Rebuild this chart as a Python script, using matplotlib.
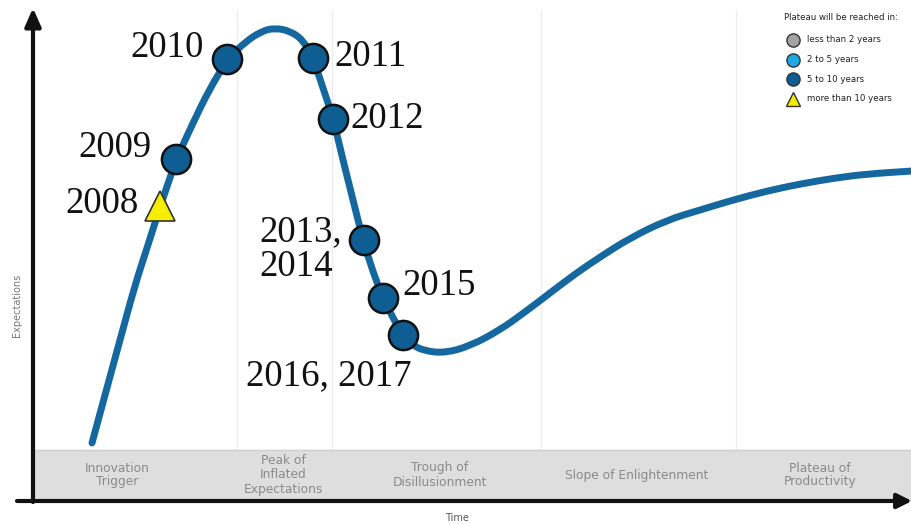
import matplotlib.pyplot as plt
from matplotlib.path import Path
from matplotlib.patches import PathPatch

# hype-cycle curve (time -> expectation height above the baseline)
curve_t = [92, 105, 120, 135, 148, 160, 176, 192, 210, 228, 245, 262, 275, 290, 303, 313,
           323, 333, 343, 353, 363, 373, 383, 393, 403, 412, 425, 445, 470, 500, 525, 550,
           575, 600, 630, 667, 700, 733, 767, 800, 835, 867, 912]
curve_e = [57, 105, 160, 215, 255, 293, 340, 375, 412, 441, 458, 469, 472, 469, 460, 442,
           412, 382, 340, 300, 260, 228, 202, 182, 165, 155, 149, 147, 154, 170, 188, 207,
           226, 243, 262, 280, 290, 300, 309, 316, 322, 326, 329]

# yearly positions on the curve
years = ['2009', '2010', '2011', '2012', '2013,\n2014', '2015', '2016, 2017']
year_t = [176, 227, 313, 333, 364, 383, 403]
year_e = [341, 441, 442, 381, 260, 202, 165]
tri_year = '2008'
tri_t, tri_e = 160, 294

phases = ['Innovation\nTrigger', 'Peak of\nInflated\nExpectations', 'Trough of\nDisillusionment',
          'Slope of Enlightenment', 'Plateau of\nProductivity']
phase_t = [117, 283, 440, 637, 820]
separators = [237, 332, 541, 736]

legend_labels = ['less than 2 years', '2 to 5 years', '5 to 10 years', 'more than 10 years']
legend_colors = ['#a3a3a3', '#1ea8e3', '#0d5d94', '#f3ec00']
legend_markers = ['o', 'o', 'o', '^']

CURVE = '#14689f'
DOT = '#0f5e93'
SANS = ['Liberation Sans Narrow', 'DejaVu Sans']
SERIF = ['Liberation Serif', 'DejaVu Serif']

fig = plt.figure(figsize=(9.12, 5.24), dpi=100, facecolor='white')
ax = fig.add_axes([0, 0, 1, 1])
ax.set_xlim(0, 912)
ax.set_ylim(-24, 500)
ax.axis('off')

# phase separators and gray band
for s in separators:
    ax.plot([s, s], [50, 490], color='#ededed', lw=1, zorder=0)
ax.fill_between([35, 912], [0, 0], [50, 50], color='#dedede', zorder=1)
ax.plot([35, 912], [50, 50], color='#cfcfcf', lw=1, zorder=1)
for name, t in zip(phases, phase_t):
    ax.text(t, 25, name, ha='center', va='center', fontsize=8.8, color='#8a8a8a',
            family=SANS, linespacing=1.1, zorder=2)

# axes arrows
ax.annotate('', xy=(33, 492), xytext=(33, -2),
            arrowprops=dict(arrowstyle='-|>,head_length=0.5,head_width=0.22', lw=3,
                            color='#111111', mutation_scale=22, shrinkA=0, shrinkB=0), zorder=3)
ax.annotate('', xy=(912, -1), xytext=(17, -1),
            arrowprops=dict(arrowstyle='-|>', lw=3, color='#111111', mutation_scale=22,
                            shrinkA=0, shrinkB=0), zorder=3)
ax.text(457, -18, 'Time', ha='center', va='center', fontsize=7, color='#555555', family=SANS)
ax.text(17, 195, 'Expectations', ha='center', va='center', rotation=90, fontsize=7,
        color='#777777', family=SANS)

# the curve, drawn as a smooth quadratic path through the read points
pts = list(zip(curve_t, curve_e))
verts = [pts[0]]
codes = [Path.MOVETO]
for i in range(1, len(pts) - 1):
    mid = ((pts[i][0] + pts[i + 1][0]) / 2, (pts[i][1] + pts[i + 1][1]) / 2)
    verts += [pts[i], mid]
    codes += [Path.CURVE3, Path.CURVE3]
verts.append(pts[-1])
codes.append(Path.LINETO)
ax.add_patch(PathPatch(Path(verts, codes), facecolor='none', edgecolor=CURVE, lw=5,
                       capstyle='round', joinstyle='round', zorder=4))

# markers
ax.plot(year_t, year_e, 'o', ms=21, mfc=DOT, mec='#111111', mew=1.8, zorder=5)
ax.plot([tri_t], [tri_e], '^', ms=22, mfc='#f5ee00', mec='#333333', mew=1.2, zorder=5)

# year labels
lab_pos = {
    '2009': (152, 352, 'right'), '2010': (204, 452, 'right'), '2011': (334, 443, 'left'),
    '2012': (350, 381, 'left'), '2013,\n2014': (259, 251, 'left'), '2015': (402, 214, 'left'),
    '2016, 2017': (246, 124, 'left'),
}
for y in years:
    x, e, ha = lab_pos[y]
    ax.text(x, e, y, ha=ha, va='center', fontsize=26.5, family=SERIF, color='#111111',
            linespacing=1.0, zorder=6)
ax.text(139, 296, tri_year, ha='right', va='center', fontsize=26.5, family=SERIF,
        color='#111111', zorder=6)

# legend
ax.text(784, 482, 'Plateau will be reached in:', ha='left', va='center', fontsize=6.2,
        color='#222222', family=SANS)
for i, (lab, c, m) in enumerate(zip(legend_labels, legend_colors, legend_markers)):
    yy = 460 - i * 19.5
    ax.plot([793], [yy], m, ms=9.5 if m == 'o' else 10, mfc=c, mec='#333333', mew=1)
    ax.text(807, yy, lab, ha='left', va='center', fontsize=6.2, color='#222222', family=SANS)

fig.savefig('out.png', dpi=100, facecolor='white')
